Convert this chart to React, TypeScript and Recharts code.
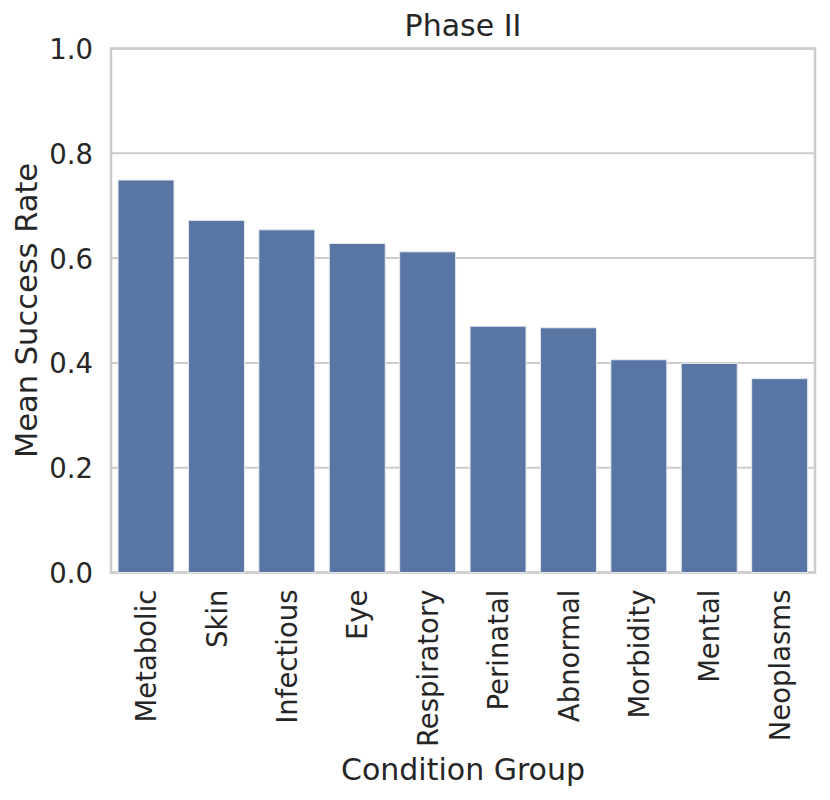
import React from "react";
import {
  BarChart,
  Bar,
  XAxis,
  YAxis,
  CartesianGrid,
  ReferenceArea,
} from "recharts";

if (typeof document !== "undefined") {
  document.body.style.margin = "0";
}

const categories = [
  "Metabolic",
  "Skin",
  "Infectious",
  "Eye",
  "Respiratory",
  "Perinatal",
  "Abnormal",
  "Morbidity",
  "Mental",
  "Neoplasms",
];
const successRates = [0.749, 0.672, 0.654, 0.628, 0.612, 0.47, 0.467, 0.406, 0.399, 0.37];
const yTicks = [0, 0.2, 0.4, 0.6, 0.8, 1.0];

const data = categories.map((c, i) => ({ group: c, rate: successRates[i] }));

const FONT = "'DejaVu Sans', sans-serif";
const TEXT = "#262626";
const GRID = "#cccccc";

const XTick = (props: any) => {
  const { x, y, payload } = props;
  return (
    <text
      transform={`translate(${x},${y}) rotate(-90)`}
      textAnchor="end"
      dominantBaseline="central"
      fontFamily={FONT}
      fontSize={27.5}
      fill={TEXT}
    >
      {payload.value}
    </text>
  );
};

const YTick = (props: any) => {
  const { x, y, payload } = props;
  return (
    <text
      x={x}
      y={y}
      dy="0.38em"
      textAnchor="end"
      fontFamily={FONT}
      fontSize={27.5}
      fill={TEXT}
    >
      {Number(payload.value).toFixed(1)}
    </text>
  );
};

export default function App() {
  return (
    <div style={{ position: "relative", width: 830, height: 800, background: "#fff" }}>
      <BarChart
        width={830}
        height={800}
        data={data}
        margin={{ top: 48.5, right: 15, left: 0, bottom: 0 }}
        barCategoryGap="10%"
      >
        <CartesianGrid vertical={false} stroke={GRID} strokeWidth={2} />
        <XAxis
          dataKey="group"
          type="category"
          height={227.5}
          interval={0}
          tickLine={false}
          axisLine={false}
          tickSize={0}
          tickMargin={17}
          tick={<XTick />}
          label={{
            value: "Condition Group",
            position: "insideBottom",
            offset: 20,
            style: { fontFamily: FONT, fontSize: 30, fill: TEXT },
          }}
        />
        <YAxis
          type="number"
          domain={[0, 1]}
          ticks={yTicks}
          interval={0}
          width={111}
          tickLine={false}
          axisLine={false}
          tickSize={0}
          tickMargin={18}
          tick={<YTick />}
          label={{
            value: "Mean Success Rate",
            angle: -90,
            position: "insideLeft",
            offset: 26.5,
            style: { fontFamily: FONT, fontSize: 30.5, fill: TEXT, textAnchor: "middle" },
          }}
        />
        <Bar
          dataKey="rate"
          fill="#5975a4"
          stroke="#e6eaf1"
          strokeWidth={1}
          isAnimationActive={false}
        />
        <ReferenceArea y1={0} y2={1} fill="none" stroke={GRID} strokeWidth={2.5} />
      </BarChart>
      <svg
        width={830}
        height={60}
        style={{ position: "absolute", left: 0, top: 0, pointerEvents: "none" }}
      >
        <text x={463} y={36} textAnchor="middle" fontFamily={FONT} fontSize={30} fill={TEXT}>
          Phase II
        </text>
      </svg>
    </div>
  );
}
